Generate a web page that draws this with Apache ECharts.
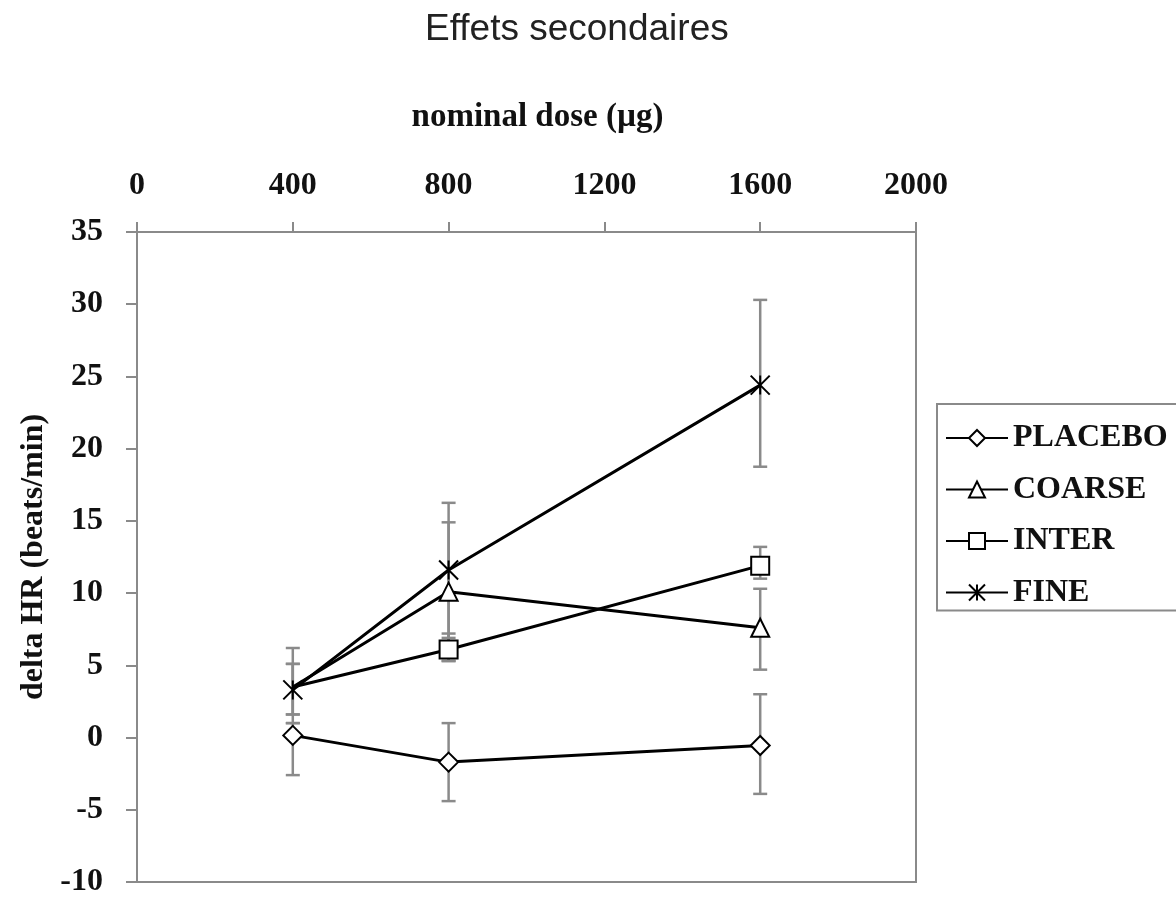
<!DOCTYPE html>
<html>
<head>
<meta charset="utf-8">
<script src="https://cdn.jsdelivr.net/npm/echarts@6/dist/echarts.min.js"></script>
<style>
  html, body { margin: 0; padding: 0; background: #fff; }
  #chart { width: 1176px; height: 899px; }
</style>
</head>
<body>
<div id="chart"></div>
<script>
// doses on the x axis
var doses = [400, 800, 1600];

// mean values
var placebo = [0.15, -1.7, -0.55];
var coarse = [3.5, 10.1, 7.6];
var inter = [3.5, 6.1, 11.9];
var fine = [3.3, 11.6, 24.4];

// error bars (low / high)
var placeboLow = [-2.6, -4.4, -3.9];
var placeboHigh = [1.0, 1.0, 3.0];
var coarseLow = [1.6, 5.3, 4.7];
var coarseHigh = [5.1, 14.9, 10.3];
var interLow = [1.0, 5.3, 11.0];
var interHigh = [5.1, 7.2, 13.2];
var fineLow = [1.6, 6.9, 18.75];
var fineHigh = [6.2, 16.25, 30.3];

var names = ['PLACEBO', 'COARSE', 'INTER', 'FINE'];

var serif = '"Liberation Serif", "Times New Roman", serif';
var axisGray = '#8a8a8a';

function points(vals, hideFirst) {
  var out = [];
  for (var i = 0; i < doses.length; i++) {
    var item = { value: [doses[i], vals[i]] };
    if (hideFirst && i === 0) item.symbol = 'none';
    out.push(item);
  }
  return out;
}

var errData = [];
[[placeboLow, placeboHigh], [coarseLow, coarseHigh], [interLow, interHigh], [fineLow, fineHigh]].forEach(function (p) {
  for (var i = 0; i < doses.length; i++) {
    errData.push([doses[i], p[0][i], p[1][i]]);
  }
});

function lineSeries(name, vals, symbol, size, hideFirst) {
  return {
    name: name,
    type: 'line',
    data: points(vals, hideFirst),
    symbol: symbol,
    symbolSize: size,
    showAllSymbol: true,
    z: 3,
    lineStyle: { color: '#000', width: 3 },
    itemStyle: { color: '#fff', borderColor: '#000', borderWidth: 2 },
    emphasis: { disabled: true }
  };
}

var myChart = echarts.init(document.getElementById('chart'));

var option = {
  animation: false,
  title: {
    text: 'Effets secondaires',
    left: 425,
    top: 11,
    padding: 0,
    textStyle: {
      fontFamily: '"Liberation Sans", Arial, sans-serif',
      fontSize: 37,
      fontWeight: 'normal',
      color: '#222'
    }
  },
  legend: {
    data: names,
    orient: 'vertical',
    left: 937,
    top: 404,
    padding: [18, 40, 2, 8],
    itemGap: 19.5,
    itemWidth: 62,
    itemHeight: 20,
    borderColor: axisGray,
    borderWidth: 2,
    textStyle: {
      fontFamily: serif,
      fontWeight: 'bold',
      fontSize: 32,
      lineHeight: 32,
      color: '#111'
    }
  },
  grid: {
    left: 137,
    right: 260,
    top: 232,
    bottom: 17,
    show: true,
    borderColor: axisGray,
    borderWidth: 2,
    containLabel: false,
    outerBoundsMode: 'none'
  },
  xAxis: {
    type: 'value',
    position: 'top',
    min: 0,
    max: 2000,
    interval: 400,
    name: 'nominal dose (\u00b5g)',
    nameLocation: 'middle',
    nameGap: 98,
    nameTextStyle: {
      fontFamily: serif,
      fontWeight: 'bold',
      fontSize: 33,
      color: '#111',
      padding: [0, 0, 0, 22]
    },
    axisLine: { show: true, onZero: false, lineStyle: { color: axisGray, width: 2 } },
    axisTick: { show: true, inside: false, length: 10, lineStyle: { color: axisGray, width: 2 } },
    axisLabel: {
      margin: 30,
      fontFamily: serif,
      fontWeight: 'bold',
      fontSize: 32,
      color: '#111',
      formatter: function (v) { return String(v); }
    },
    splitLine: { show: false }
  },
  yAxis: {
    type: 'value',
    min: -10,
    max: 35,
    interval: 5,
    name: 'delta HR (beats/min)',
    nameLocation: 'middle',
    nameGap: 86,
    nameRotate: 90,
    nameTextStyle: {
      fontFamily: serif,
      fontWeight: 'bold',
      fontSize: 32,
      color: '#111'
    },
    axisLine: { show: true, onZero: false, lineStyle: { color: axisGray, width: 2 } },
    axisTick: { show: true, inside: false, length: 11, lineStyle: { color: axisGray, width: 2 } },
    axisLabel: {
      margin: 34,
      fontFamily: serif,
      fontWeight: 'bold',
      fontSize: 32,
      color: '#111'
    },
    splitLine: { show: false }
  },
  series: [
    {
      name: 'errors',
      type: 'custom',
      z: 1,
      silent: true,
      data: errData,
      encode: { x: 0, y: [1, 2] },
      renderItem: function (params, api) {
        var x = api.value(0);
        var lo = api.coord([x, api.value(1)]);
        var hi = api.coord([x, api.value(2)]);
        var w = 7;
        var st = { stroke: '#8a8a8a', lineWidth: 2.5 };
        return {
          type: 'group',
          children: [
            { type: 'line', shape: { x1: lo[0], y1: lo[1], x2: hi[0], y2: hi[1] }, style: st },
            { type: 'line', shape: { x1: lo[0] - w, y1: lo[1], x2: lo[0] + w, y2: lo[1] }, style: st },
            { type: 'line', shape: { x1: hi[0] - w, y1: hi[1], x2: hi[0] + w, y2: hi[1] }, style: st }
          ]
        };
      }
    },
    lineSeries('PLACEBO', placebo, 'diamond', 19, false),
    lineSeries('COARSE', coarse, 'triangle', 18, true),
    lineSeries('INTER', inter, 'rect', 18, true),
    lineSeries('FINE', fine, 'path://M0,0L10,10M10,0L0,10M5,0L5,10', 19, false)
  ]
};

myChart.setOption(option);
</script>
</body>
</html>
